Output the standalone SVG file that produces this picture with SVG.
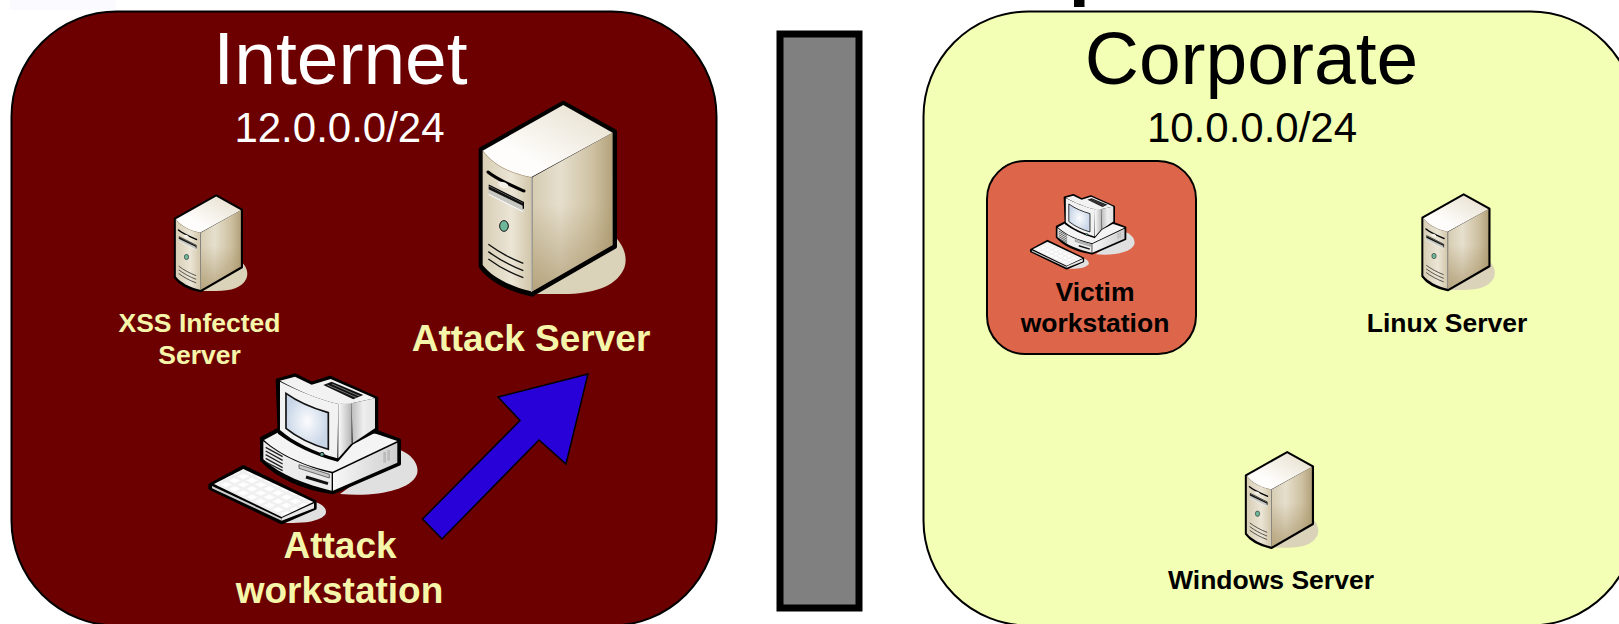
<svg xmlns="http://www.w3.org/2000/svg" xmlns:xlink="http://www.w3.org/1999/xlink" width="1619" height="624" viewBox="0 0 1619 624">
<style>
text{font-family:"Liberation Sans",Arial,sans-serif;text-anchor:middle}
.b{font-weight:bold}
.cream{fill:#f6f6ab}
.wh{fill:#fff}
.bk{fill:#000}
.zone{stroke:#000;stroke-width:2}
</style>
<defs>
<linearGradient id="sTop" x1="0" y1="1" x2="1" y2="0"><stop offset="0.3" stop-color="#fefdfb"/><stop offset="1" stop-color="#e5ddcb"/></linearGradient>
<linearGradient id="sFront" x1="0" y1="0" x2="1" y2="0"><stop offset="0" stop-color="#d8ceb5"/><stop offset="0.6" stop-color="#ebe5d6"/><stop offset="1" stop-color="#d2c7ab"/></linearGradient>
<linearGradient id="sSide" x1="0" y1="0" x2="1" y2="0"><stop offset="0" stop-color="#d6ccb2"/><stop offset="0.35" stop-color="#e6dfcd"/><stop offset="0.75" stop-color="#cec1a2"/><stop offset="1" stop-color="#b3a27b"/></linearGradient>
<linearGradient id="sShade" x1="0" y1="0" x2="0" y2="1"><stop offset="0.45" stop-color="#a38d5f" stop-opacity="0"/><stop offset="1" stop-color="#a38d5f" stop-opacity="0.65"/></linearGradient>
<linearGradient id="cSide" x1="0" y1="0" x2="1" y2="0"><stop offset="0" stop-color="#f7f7f7"/><stop offset="1" stop-color="#cfcfcf"/></linearGradient>
<linearGradient id="cRear" x1="0" y1="0" x2="1" y2="0"><stop offset="0" stop-color="#bdbdbd"/><stop offset="0.5" stop-color="#eeeeee"/><stop offset="1" stop-color="#e2e2e2"/></linearGradient>
<linearGradient id="cBezel" x1="0" y1="0" x2="1" y2="0"><stop offset="0" stop-color="#fafafa"/><stop offset="1" stop-color="#b5b5b5"/></linearGradient>
<radialGradient id="cScreen"><stop offset="0" stop-color="#fbfcfd"/><stop offset="1" stop-color="#c9d6e8"/></radialGradient>
<pattern id="keys" width="26" height="26" patternUnits="userSpaceOnUse" patternTransform="matrix(1 .48 -1 .48 0 0)"><rect width="26" height="26" fill="#f0f0f0"/><rect x="4" y="4" width="17" height="17" fill="#fff"/></pattern>
<g id="server">
<path d="M465,440C495,470 505,510 490,540C465,590 400,612 310,612L220,612Z" fill="#dbd3b9"/>
<path d="M310,38L465,124V470L215,614C150,600 90,570 62,530V178Z" fill="#000" stroke="#000" stroke-width="12" stroke-linejoin="round"/>
<path d="M68,182C100,225 150,250 213,262V604C150,590 95,560 68,525Z" fill="url(#sFront)"/>
<path d="M217,262L458,128V465L217,604Z" fill="url(#sSide)"/>
<path d="M217,262L458,128V465L217,604Z" fill="url(#sShade)"/>
<path d="M310,45L458,128L213,262C150,250 100,225 68,182Z" fill="url(#sTop)"/>
<path d="M68,182C100,225 150,250 213,262" fill="none" stroke="#b89a70" stroke-width="1.5"/>
<path d="M215,262V606" stroke="#fff" stroke-width="2.5"/>
<path d="M84,246C110,268 150,285 192,303" fill="none" stroke="#000" stroke-width="9" stroke-linecap="round"/>
<ellipse cx="130" cy="285" rx="16" ry="9" fill="#f4f1e8" transform="rotate(20 130 285)"/>
<path d="M86,285L190,337V365L86,313Z" fill="#c7c7c2"/>
<path d="M86,313L190,365" stroke="#fff" stroke-width="3"/>
<path d="M86,285L190,337V356" fill="none" stroke="#000" stroke-width="4"/>
<path d="M86,288L190,340L190,348L86,298Z" fill="#111"/>
<ellipse cx="132" cy="408" rx="13" ry="16" fill="#6db89a" stroke="#111" stroke-width="3"/>
<path d="M85,463C115,485 150,505 190,520M85,485C115,507 150,527 190,542M85,507C115,529 150,549 190,563" fill="none" stroke="#111" stroke-width="4"/>
</g>
<g id="computer">
<path d="M600,270C640,285 660,320 650,345C630,390 530,412 420,402Z" fill="#e0e0e0"/>
<path d="M340,425C370,430 385,450 375,465C350,490 290,490 250,488Z" fill="#e0e0e0"/>
<path d="M185,235L300,175L530,215L598,240V312L398,398C310,385 230,350 185,300Z" fill="#000" stroke="#000" stroke-width="10" stroke-linejoin="round"/>
<path d="M192,240L300,182L530,222L592,243L398,335C320,320 240,285 192,240Z" fill="#f4f4f4"/>
<path d="M190,244C240,288 320,322 395,340V392C320,375 240,345 190,298Z" fill="#ececec"/>
<path d="M399,340L592,248V308L399,392Z" fill="url(#cSide)"/>
<path d="M197,262L248,290M197,273L248,301M197,284L248,312M197,295L248,323M197,306L248,332" stroke="#222" stroke-width="4"/>
<path d="M297,314L388,343V354L297,325Z" fill="#c9c9c9" stroke="#333" stroke-width="2"/>
<path d="M318,351L384,371" stroke="#111" stroke-width="9"/>
<path d="M554,276V308M566,270V302" stroke="#bbb" stroke-width="8"/>
<path d="M232,60L285,45L335,70L390,52L530,115V210L455,250L412,300C340,280 280,250 238,218Z" fill="#000" stroke="#000" stroke-width="10" stroke-linejoin="round"/>
<path d="M455,130L525,115V205L458,250Z" fill="url(#cRear)"/>
<path d="M415,132L455,125V250L415,295Z" fill="url(#cBezel)"/>
<path d="M240,65C290,90 360,120 415,132L412,295C340,275 280,245 240,210Z" fill="#f2f2f2"/>
<path d="M240,62L285,50L335,74L392,57L525,115L455,130L415,132C360,120 290,90 240,62Z" fill="#f2f2f2"/>
<path d="M258,100C300,130 340,145 385,158V268C340,255 295,235 258,205Z" fill="url(#cScreen)" stroke="#111" stroke-width="5"/>
<path d="M370,75L395,65L490,105L460,118Z" fill="#111"/>
<path d="M382,75L470,113M396,72L480,109" stroke="#888" stroke-width="2.5"/>
<circle cx="366" cy="283" r="6" fill="#6a9" stroke="#111" stroke-width="3"/>
<path d="M30,375L130,320L345,425V445L245,488L30,385Z" fill="#000" stroke="#000" stroke-width="10" stroke-linejoin="round"/>
<path d="M36,378L245,476V482L36,385Z" fill="#cfcfcf"/>
<path d="M245,474L342,430V445L245,482Z" fill="#e8e8e8"/>
<path d="M42,372L130,327L340,426L245,471Z" fill="url(#keys)"/>
</g>
</defs>
<rect id="bg" width="1619" height="624" fill="#fff"/>
<rect id="top-tint" x="10" y="0" width="106" height="10" fill="#fafaff"/>
<g id="internet">
<rect class="zone" x="11.5" y="11.5" width="705" height="614" rx="105" ry="105" fill="#6c0000"/>
<text class="wh" x="340.5" y="84" font-size="75">Internet</text>
<text class="wh" x="339.5" y="142" font-size="42">12.0.0.0/24</text>
</g>
<g id="firewall"><rect x="780" y="34" width="79" height="574" fill="#808080" stroke="#000" stroke-width="7"/></g>
<g id="corporate">
<rect class="zone" x="923.5" y="11.5" width="712" height="614" rx="105" ry="105" fill="#f2ffb4"/>
<text class="bk" x="1251.5" y="84" font-size="75">Corporate</text>
<text class="bk" x="1252" y="142" font-size="42">10.0.0.0/24</text>
</g>
<rect id="top-fragment" x="1074" y="0" width="10.5" height="7" fill="#000"/>
<g id="attack-server">
<use xlink:href="#server" href="#server" transform="translate(460 90) scale(.3333)"/>
<text class="b cream" x="531" y="351" font-size="37">Attack Server</text>
</g>
<g id="xss-server">
<use xlink:href="#server" href="#server" transform="translate(164.5 189) scale(.1667)"/>
<text class="b cream" x="199.5" y="331.5" font-size="26.5">XSS Infected</text>
<text class="b cream" x="199.5" y="363.5" font-size="26.5">Server</text>
</g>
<g id="attack-workstation">
<use xlink:href="#computer" href="#computer" transform="translate(200 360) scale(.3333)"/>
<text class="b cream" x="340" y="558" font-size="37">Attack</text>
<text class="b cream" x="339.5" y="602.5" font-size="37">workstation</text>
</g>
<g id="victim-workstation">
<rect x="987" y="161" width="209" height="193" rx="38" ry="38" fill="#dd6549" stroke="#000" stroke-width="2"/>
<use xlink:href="#computer" href="#computer" transform="translate(1025.8 187.3) scale(.1667)"/>
<text class="b bk" x="1095" y="300.5" font-size="26.5">Victim</text>
<text class="b bk" x="1095" y="332" font-size="26.5">workstation</text>
</g>
<g id="linux-server">
<use xlink:href="#server" href="#server" transform="translate(1412 188) scale(.1667)"/>
<text class="b bk" x="1447" y="332" font-size="26.5">Linux Server</text>
</g>
<g id="windows-server">
<use xlink:href="#server" href="#server" transform="translate(1235.5 445.7) scale(.1667)"/>
<text class="b bk" x="1271" y="589" font-size="26.5">Windows Server</text>
</g>
<g id="connectors">
<polygon points="588,374 498,397 520,420.5 422.5,519 442,539 539,440 566,464" fill="#2800d8" stroke="#000" stroke-width="1.5"/>
</g>
</svg>
